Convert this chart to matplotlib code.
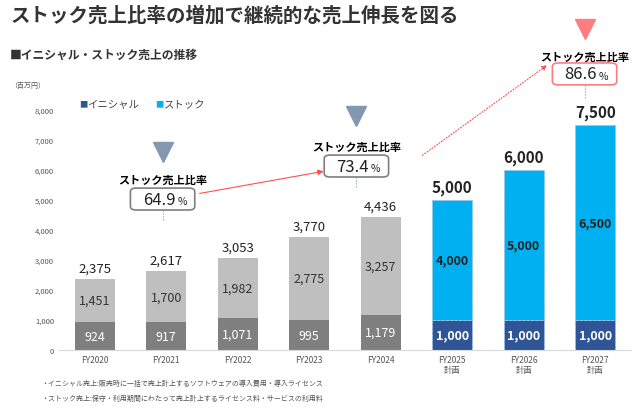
import matplotlib.pyplot as plt
from matplotlib.patches import FancyBboxPatch

plt.rcParams['font.family'] = ['Noto Sans CJK JP', 'DejaVu Sans']

years = ['FY2020', 'FY2021', 'FY2022', 'FY2023', 'FY2024', 'FY2025\n計画', 'FY2026\n計画', 'FY2027\n計画']
initial = [924, 917, 1071, 995, 1179, 1000, 1000, 1000]
stock = [1451, 1700, 1982, 2775, 3257, 4000, 5000, 6500]
totals = [2375, 2617, 3053, 3770, 4436, 5000, 6000, 7500]
ratios = [(0, '64.9'), (4, '73.4'), (7, '86.6')]

fig = plt.figure(figsize=(6.4, 4.1), dpi=100)
ax = fig.add_axes([0.092, 0.144, 0.894, 0.805])

for i in range(len(years)):
    plan = i >= 5
    c1 = '#2f5597' if plan else '#7f7f7f'
    c2 = '#00b0f0' if plan else '#bfbfbf'
    ec = '#9dc3e6' if plan else 'none'
    ax.bar(i, initial[i], 0.56, color=c1, edgecolor=ec, linestyle='--', lw=0.6)
    ax.bar(i, stock[i], 0.56, bottom=initial[i], color=c2, edgecolor=ec, linestyle='--', lw=0.6)
    w = 'bold' if plan else 'normal'
    ax.text(i, initial[i] / 2, f'{initial[i]:,}', ha='center', va='center', color='white', fontsize=9, weight=w)
    ax.text(i, initial[i] + stock[i] / 2, f'{stock[i]:,}', ha='center', va='center',
            color='#222222' if plan else '#333333', fontsize=9, weight=w)
    ax.text(i, totals[i] + 150, f'{totals[i]:,}', ha='center', va='bottom',
            fontsize=11 if plan else 9.5, weight=w, color='#222222')

ax.set_xlim(-0.5, 7.5)
ax.set_ylim(0, 11000)
ax.set_xticks(range(len(years)))
ax.set_xticklabels(years, fontsize=6, color='#555555')
ax.set_yticks(range(0, 8001, 1000))
ax.set_yticklabels([f'{v:,}' for v in range(0, 8001, 1000)], fontsize=5.5, color='#555555')
ax.tick_params(length=0)
for s in ['top', 'right', 'left']:
    ax.spines[s].set_visible(False)
ax.spines['bottom'].set_color('#d9d9d9')

# callouts: (box x, box y, label y, triangle y)
callout = {0: (0.95, 5030, 5700, 6600), 4: (3.66, 6130, 6800, 7800), 7: (6.85, 9200, 9800, 10700)}
for i, r in ratios:
    x, y, ly, ty = callout[i]
    red = i == 7
    ec = '#ff7c80' if red else '#7f7f7f'
    tri = '#ff7c80' if red else '#8497b0'
    ax.add_patch(FancyBboxPatch((x - 0.45, y - 365), 0.9, 730, boxstyle='round,pad=0,rounding_size=0.08',
                                fc='white', ec=ec, lw=1.2, mutation_aspect=1500, zorder=3))
    ax.text(x - 0.05, y, r, ha='center', va='center', fontsize=12, color='#222222', zorder=4)
    ax.text(x + 0.27, y - 60, '%', ha='center', va='center', fontsize=7.5, color='#222222', zorder=4)
    ax.text(x, ly, 'ストック売上比率', ha='center', va='center', fontsize=8, weight='bold')
    ax.plot([x], [ty], marker='v', ms=15, color=tri, clip_on=False)
    ax.plot([x, x], [y - 380, totals[i] + 900 if i == 7 else y - 700], ':', color='#8497b0', lw=0.8)

ax.annotate('', xy=(3.24, 5970), xytext=(1.43, 5200),
            arrowprops=dict(arrowstyle='-|>', color='#ff5050', lw=0.8, mutation_scale=8))
ax.annotate('', xy=(6.36, 9550), xytext=(4.55, 6430),
            arrowprops=dict(arrowstyle='-|>', color='#ff5050', lw=0.8, ls=':', mutation_scale=8))

# legend
ax.text(-0.22, 8200, '■', color='#2f5597', fontsize=6, va='center')
ax.text(-0.1, 8200, 'イニシャル', fontsize=7.5, color='#444444', va='center')
ax.text(0.85, 8200, '■', color='#00b0f0', fontsize=6, va='center')
ax.text(0.97, 8200, 'ストック', fontsize=7.5, color='#444444', va='center')

fig.text(0.016, 0.962, 'ストック売上比率の増加で継続的な売上伸長を図る', fontsize=14, weight='bold', color='#333333', va='center')
fig.text(0.016, 0.865, '■イニシャル・ストック売上の推移', fontsize=8.5, weight='bold', color='#333333', va='center')
fig.text(0.016, 0.79, '（百万円）', fontsize=5, color='#555555', va='center')
fig.text(0.065, 0.063, '・イニシャル売上:販売時に一括で売上計上するソフトウェアの導入費用・導入ライセンス', fontsize=5, color='#555555', va='center')
fig.text(0.065, 0.027, '・ストック売上:保守・利用期間にわたって売上計上するライセンス料・サービスの利用料', fontsize=5, color='#555555', va='center')

fig.savefig('out.png', dpi=100)
